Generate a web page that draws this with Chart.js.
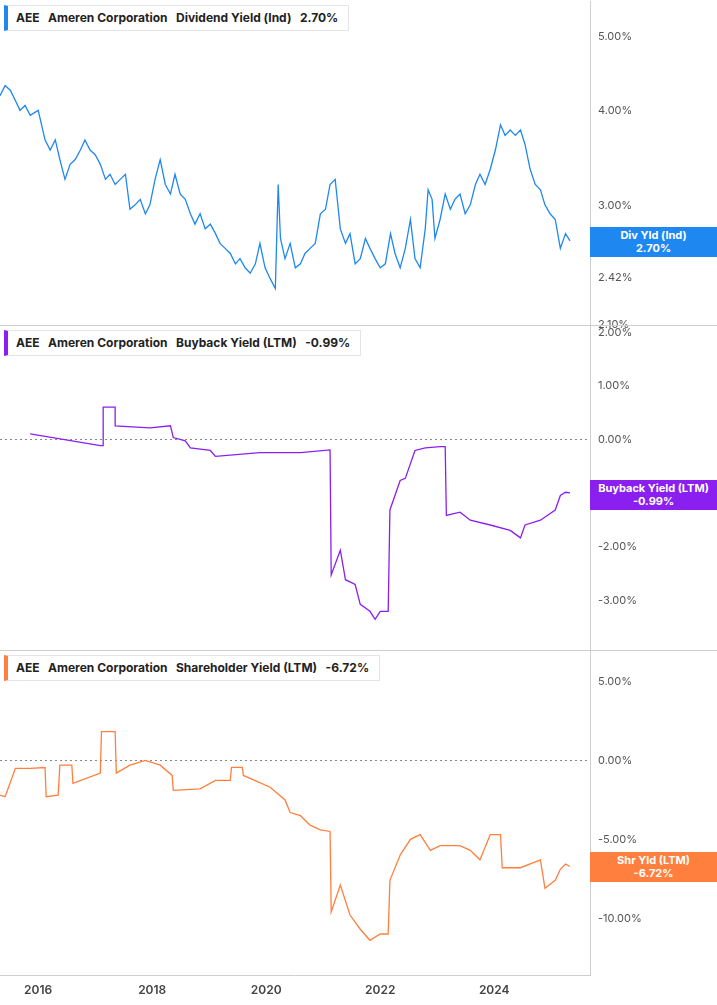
<!DOCTYPE html>
<html>
<head>
<meta charset="utf-8">
<script src="https://cdn.jsdelivr.net/npm/chart.js@4.4.1/dist/chart.umd.min.js"></script>
<style>
  body { margin:0; background:#fff; font-family:Inter, "Noto Sans", sans-serif; }
  #wrap { position:relative; width:717px; height:1005px; overflow:hidden; }
  .pane { position:absolute; left:0; width:717px; }
  .legend { position:absolute; left:4px; height:24px; padding:0 10px 0 8px; background:#fff;
            border:1px solid #e4e4e4; border-left:4px solid; font-size:12px; font-weight:700;
            color:#222; line-height:24px; white-space:pre; z-index:3; }
  .tag { position:absolute; left:590px; width:127px; color:#fff; font-size:11px; font-weight:700;
         text-align:center; line-height:13px; padding:2px 0; z-index:3; }
  .sep { position:absolute; left:0; width:717px; height:1px; background:#cfcfcf; z-index:2; }
</style>
</head>
<body>
<div id="wrap">
  <div class="pane" style="top:-13px;height:352px"><canvas id="c1"></canvas></div>
  <div class="pane" style="top:312px;height:352px"><canvas id="c2"></canvas></div>
  <div class="pane" style="top:637px;height:368px"><canvas id="c3"></canvas></div>
  <div class="sep" style="top:325px"></div>
  <div class="sep" style="top:650px"></div>

  <div class="legend" style="top:5px;border-left-color:#1e88f0">AEE   Ameren Corporation   Dividend Yield (Ind)   2.70%</div>
  <div class="legend" style="top:330px;border-left-color:#8a1ff0">AEE   Ameren Corporation   Buyback Yield (LTM)   -0.99%</div>
  <div class="legend" style="top:655px;border-left-color:#ff7f3f">AEE   Ameren Corporation   Shareholder Yield (LTM)   -6.72%</div>

  <div class="tag" style="top:227px;background:#1e88f0">Div Yld (Ind)<br>2.70%</div>
  <div class="tag" style="top:480px;background:#8a1ff0">Buyback Yield (LTM)<br>-0.99%</div>
  <div class="tag" style="top:852px;background:#ff7f3f">Shr Yld (LTM)<br>-6.72%</div>
</div>
<script>
/* ===============================
   DATA
================================= */
const divDates = [2015.33,2015.42,2015.51,2015.60,2015.68,2015.77,2015.86,2016.00,2016.12,2016.21,2016.30,2016.38,2016.47,2016.56,2016.65,2016.74,2016.82,2016.91,2017.00,2017.09,2017.18,2017.26,2017.35,2017.44,2017.53,2017.61,2017.70,2017.79,2017.88,2017.96,2018.05,2018.14,2018.23,2018.32,2018.40,2018.49,2018.58,2018.67,2018.75,2018.84,2018.93,2019.02,2019.11,2019.19,2019.28,2019.37,2019.46,2019.54,2019.63,2019.72,2019.81,2019.89,2019.98,2020.07,2020.16,2020.21,2020.25,2020.33,2020.42,2020.51,2020.60,2020.68,2020.77,2020.86,2020.95,2021.04,2021.12,2021.21,2021.30,2021.39,2021.47,2021.56,2021.65,2021.74,2021.82,2021.91,2022.00,2022.09,2022.18,2022.26,2022.35,2022.44,2022.53,2022.61,2022.70,2022.79,2022.84,2022.91,2022.96,2023.05,2023.14,2023.23,2023.31,2023.40,2023.49,2023.58,2023.67,2023.75,2023.84,2023.93,2024.02,2024.11,2024.19,2024.28,2024.37,2024.46,2024.54,2024.63,2024.72,2024.81,2024.89,2024.98,2025.07,2025.16,2025.25,2025.33];
const divYield = [4.18,4.31,4.25,4.12,4.00,4.06,3.94,4.00,3.66,3.55,3.66,3.45,3.25,3.40,3.45,3.55,3.66,3.55,3.50,3.40,3.25,3.30,3.20,3.25,3.30,2.97,3.01,3.06,2.93,3.01,3.25,3.45,3.20,3.11,3.30,3.11,3.06,2.93,2.84,2.93,2.80,2.84,2.76,2.68,2.64,2.60,2.52,2.56,2.49,2.45,2.52,2.68,2.49,2.41,2.34,3.20,2.72,2.56,2.68,2.49,2.52,2.60,2.64,2.68,2.93,2.97,3.20,3.25,2.80,2.68,2.76,2.52,2.56,2.72,2.64,2.56,2.49,2.52,2.76,2.60,2.49,2.64,2.88,2.56,2.49,2.80,3.15,3.06,2.72,2.88,3.11,2.97,3.06,3.11,2.93,3.01,3.20,3.30,3.20,3.35,3.55,3.83,3.71,3.77,3.71,3.77,3.61,3.35,3.20,3.15,3.01,2.93,2.88,2.64,2.76,2.70];

const bbDates = [2015.86,2017.09,2017.14,2017.14,2017.35,2017.35,2017.96,2018.32,2018.37,2018.58,2018.67,2019.02,2019.11,2019.89,2020.60,2021.12,2021.14,2021.30,2021.39,2021.56,2021.65,2021.82,2021.91,2022.00,2022.14,2022.17,2022.35,2022.44,2022.61,2022.79,2023.05,2023.14,2023.16,2023.40,2023.58,2023.93,2024.28,2024.46,2024.54,2024.81,2025.07,2025.16,2025.25,2025.33];
const bbYield = [0.11,-0.11,-0.11,0.61,0.61,0.26,0.22,0.26,0.04,-0.02,-0.15,-0.20,-0.31,-0.24,-0.24,-0.19,-2.52,-2.06,-2.61,-2.70,-3.07,-3.20,-3.35,-3.20,-3.20,-1.31,-0.76,-0.72,-0.20,-0.15,-0.13,-0.13,-1.41,-1.35,-1.50,-1.59,-1.69,-1.83,-1.59,-1.50,-1.31,-1.04,-0.98,-0.99];

const shDates = [2015.33,2015.42,2015.51,2015.60,2015.86,2016.12,2016.14,2016.35,2016.38,2016.59,2016.61,2017.09,2017.11,2017.35,2017.37,2017.61,2017.88,2018.14,2018.35,2018.37,2018.84,2019.11,2019.37,2019.39,2019.58,2019.60,2020.07,2020.33,2020.42,2020.60,2020.77,2020.95,2021.12,2021.14,2021.30,2021.47,2021.65,2021.82,2022.00,2022.14,2022.17,2022.35,2022.53,2022.70,2022.88,2023.05,2023.23,2023.40,2023.58,2023.75,2023.93,2024.11,2024.14,2024.46,2024.81,2024.89,2025.07,2025.16,2025.25,2025.33];
const shYield = [-2.2,-2.3,-1.4,-0.5,-0.5,-0.45,-2.3,-2.2,-0.3,-0.3,-1.45,-0.8,1.83,1.83,-0.8,-0.3,0.0,-0.3,-0.95,-1.9,-1.8,-1.26,-1.26,-0.44,-0.44,-0.95,-1.7,-2.5,-3.3,-3.5,-4.1,-4.4,-4.5,-9.6,-7.9,-9.8,-10.7,-11.4,-11.0,-11.0,-7.6,-6.0,-5.0,-4.7,-5.7,-5.4,-5.4,-5.4,-5.7,-6.3,-4.7,-4.7,-6.8,-6.8,-6.3,-8.1,-7.6,-6.9,-6.56,-6.72];

const divTicks = [2.1, 2.42, 3, 4, 5];
const bbTicks = [2, 1, 0, -1, -2, -3];
const shTicks = [5, 0, -5, -10];
const yearTicks = [2016, 2018, 2020, 2022, 2024];

/* ===============================
   HELPERS
================================= */
const X_MIN = 2015.33, X_MAX = 2025.68;
const pts = (xs, ys) => xs.map((x, i) => ({ x, y: ys[i] }));
const pct = v => v.toFixed(2) + '%';

function rightAxis(min, max, ticks, type, zeroLine) {
    return {
        type, position: 'right', min, max,
        afterBuildTicks: s => { s.ticks = ticks.map(v => ({ value: v })); },
        afterFit: s => { s.width = 127; },
        ticks: { callback: v => pct(v), color: '#555', font: { size: 11, family: 'Inter' }, padding: 8, autoSkip: false },
        grid: {
            drawTicks: false,
            color: c => (zeroLine && c.tick && c.tick.value === 0) ? '#888' : 'transparent',
            lineWidth: 1
        },
        border: { display: true, color: '#cfcfcf', dash: [2, 3] }
    };
}

function xAxis(show) {
    return {
        type: 'linear', min: X_MIN, max: X_MAX, display: show,
        afterBuildTicks: s => { s.ticks = yearTicks.map(v => ({ value: v })); },
        afterFit: s => { if (show) s.height = 30; },
        ticks: { callback: v => String(v), color: '#444', font: { size: 12, weight: '600', family: 'Inter' }, padding: 8, autoSkip: false, maxRotation: 0 },
        grid: { display: false, drawTicks: false },
        border: { display: true, color: '#cfcfcf' }
    };
}

function makeChart(id, data, color, yScale, showX, stepped) {
    return new Chart(document.getElementById(id), {
        type: 'line',
        data: { datasets: [{ data, borderColor: color, borderWidth: 1.3, pointRadius: 0, tension: 0, stepped: stepped || false }] },
        options: {
            responsive: true, maintainAspectRatio: false, animation: false,
            layout: { padding: 0 },
            plugins: { legend: { display: false }, tooltip: { enabled: false } },
            scales: { x: xAxis(showX), y: yScale }
        }
    });
}

/* ===============================
   INIT
================================= */
makeChart('c1', pts(divDates, divYield), '#1e88f0', rightAxis(2.1, 5.55, divTicks, 'logarithmic', false), false);
makeChart('c2', pts(bbDates, bbYield), '#8a1ff0', rightAxis(-3.91, 2.11, bbTicks, 'linear', true), false);
makeChart('c3', pts(shDates, shYield), '#ff7f3f', rightAxis(-13.6, 6.9, shTicks, 'linear', true), true);
</script>
</body>
</html>
